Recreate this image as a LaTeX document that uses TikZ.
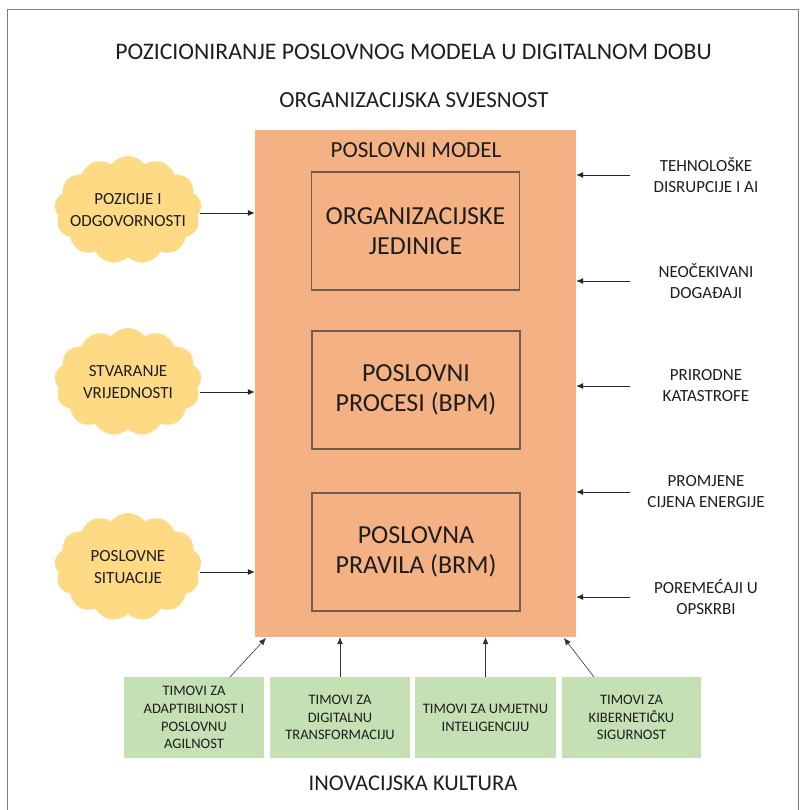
\documentclass[tikz,border=0pt]{standalone}
\usepackage{fontspec}
\setmainfont{Carlito}
\usetikzlibrary{shapes.symbols,arrows.meta}

\definecolor{modelfill}{HTML}{F4B183}
\definecolor{cloudfill}{HTML}{FFDA85}
\definecolor{teamfill}{HTML}{C5E0B4}
\definecolor{framegray}{HTML}{7F7F7F}
\definecolor{unitline}{HTML}{6E5C50}
\definecolor{ink}{HTML}{1E1E1E}

\begin{document}
\begin{tikzpicture}[x=1pt,y=-1pt,
  every node/.style={text=ink, align=center, inner sep=0pt},
  heading/.style={font=\fontsize{23}{28}\selectfont},
  modelbox/.style={rectangle, fill=modelfill, minimum width=321pt, minimum height=507pt},
  unitbox/.style={rectangle, draw=unitline, line width=1.5pt, minimum width=208pt, minimum height=118pt,
                  font=\fontsize{26}{30}\selectfont},
  puff/.style={cloud, cloud puffs=13, cloud puff arc=105, aspect=1.35, fill=cloudfill,
               minimum width=147pt, minimum height=108pt},
  puffword/.style={font=\fontsize{17}{22}\selectfont},
  force/.style={font=\fontsize{17}{21}\selectfont},
  team/.style={rectangle, fill=teamfill, minimum height=81pt, font=\fontsize{14.5}{17.7}\selectfont},
  arr/.style={-{Latex[length=7pt,width=6pt]}, line width=0.8pt, draw=black!85},
  tarr/.style={-{Latex[length=7pt,width=6pt]}, line width=0.6pt, draw=black!80}]

\useasboundingbox (0,0) rectangle (803,810);

% page frame
\draw[framegray, line width=0.8pt] (7,810) -- (7,9) -- (798,9) -- (798,810);

% headings
\node[heading, font=\fontsize{23.7}{28}\selectfont] (title) at (413.5,52) {POZICIONIRANJE POSLOVNOG MODELA U DIGITALNOM DOBU};
\node[heading] (aware) at (414,100) {ORGANIZACIJSKA SVJESNOST};
\node[heading, font=\fontsize{22.5}{27}\selectfont] (culture) at (413,783) {INOVACIJSKA KULTURA};

% business model and its units
\node[modelbox] (model) at (415.5,383.5) {};
\node[heading] (modeltitle) at (416,150) {POSLOVNI MODEL};
\node[unitbox] (units) at (415.5,231) {ORGANIZACIJSKE\\JEDINICE};
\node[unitbox] (bpm) at (416,390) {POSLOVNI\\PROCESI (BPM)};
\node[unitbox] (brm) at (416,552) {POSLOVNA\\PRAVILA (BRM)};

% inputs on the left: fixed-size clouds with their captions on top
\node[puff] (c1) at (128,210) {};
\node[puff] (c2) at (128,382) {};
\node[puff] (c3) at (128,567) {};
\node[puffword] (c1t) at (c1) {POZICIJE I\\ODGOVORNOSTI};
\node[puffword] (c2t) at (c2) {STVARANJE\\VRIJEDNOSTI};
\node[puffword] (c3t) at (c3) {POSLOVNE\\SITUACIJE};
\coordinate (l1) at (200,213);
\coordinate (l2) at (200,392);
\coordinate (l3) at (200,572);
\foreach \l in {l1,l2,l3}
  \draw[arr] (\l) -- (model.west |- \l);

% external forces on the right
\node[force] (f1) at (706,175.5) {TEHNOLOŠKE\\DISRUPCIJE I AI};
\node[force] (f2) at (706,281) {NEOČEKIVANI\\DOGAĐAJI};
\node[force] (f3) at (706,386) {PRIRODNE\\KATASTROFE};
\node[force] (f4) at (706,491.5) {PROMJENE\\CIJENA ENERGIJE};
\node[force] (f5) at (706,596.5) {POREMEĆAJI U\\OPSKRBI};
\coordinate (s1) at (630,175);
\coordinate (s2) at (630,281);
\coordinate (s3) at (630,386);
\coordinate (s4) at (630,492);
\coordinate (s5) at (630,597);
\foreach \s in {s1,s2,s3,s4,s5}
  \draw[arr] (\s) -- (model.east |- \s);

% teams below
\node[team, minimum width=140pt] (t1) at (194,717.5) {TIMOVI ZA\\ADAPTIBILNOST I\\POSLOVNU\\AGILNOST};
\node[team, minimum width=140pt] (t2) at (340,717.5) {TIMOVI ZA\\DIGITALNU\\TRANSFORMACIJU};
\node[team, minimum width=141pt] (t3) at (485.5,717.5) {TIMOVI ZA UMJETNU\\INTELIGENCIJU};
\node[team, minimum width=139pt] (t4) at (631.5,717.5) {TIMOVI ZA\\KIBERNETIČKU\\SIGURNOST};
\coordinate (b1) at (230,677);
\coordinate (e1) at (266,638);
\coordinate (b4) at (594,677);
\coordinate (e4) at (564,638);
\draw[tarr] (b1) -- (e1);
\draw[tarr] (t2.north) -- (t2.north |- model.south);
\draw[tarr] (t3.north) -- (t3.north |- model.south);
\draw[tarr] (b4) -- (e4);

\end{tikzpicture}
\end{document}
